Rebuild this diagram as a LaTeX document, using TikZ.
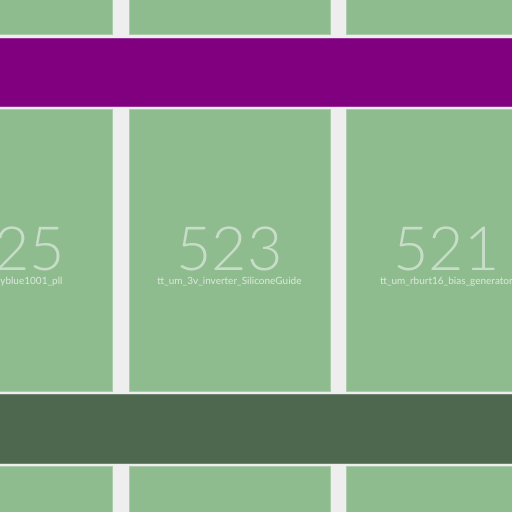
\documentclass[tikz,border=0pt]{standalone}
\usepackage{fontspec}
\newfontfamily\tilefont{Lato Light}
\newfontfamily\namefont{Lato}
\usepackage{tikz}
\usetikzlibrary{positioning}
\definecolor{floorgray}{HTML}{EEEEEE}
\definecolor{tilegreen}{HTML}{8FBC8F}
\definecolor{bandpurple}{HTML}{800080}
\definecolor{banddark}{HTML}{4E684F}
\definecolor{tiletext}{HTML}{C7DDC7}
\definecolor{nametext}{HTML}{DCEADC}
\tikzset{
  tile/.style     = {rectangle, fill=tilegreen, draw=tilegreen!75!white, line width=0.6pt,
                     minimum width=201pt, minimum height=282pt, inner sep=0pt, anchor=north west},
  band/.style     = {rectangle, draw=#1!80!white, line width=0.6pt, fill=#1, minimum width=520pt,
                     minimum height=68.5pt, inner sep=0pt, anchor=north west},
  tilenum/.style  = {font=\tilefont\fontsize{61}{61}\selectfont, text=tiletext, inner sep=0pt, anchor=base},
  tilename/.style = {font=\namefont\fontsize{10}{11}\selectfont, text=nametext, inner sep=0pt, anchor=base},
}

\begin{document}
\begin{tikzpicture}[x=1pt, y=-1pt]
  \useasboundingbox (0,0) rectangle (512,512);
  \clip (0,0) rectangle (512,512);
  \fill[floorgray] (0,0) rectangle (512,512);
  % ---- top row
  \node[tile] (ta) at (-89,-248) {};
  \node[tile] (tb) at (128.7,-248) {};
  \node[tile] (tc) at (345.7,-248) {};
  % ---- purple band
  \node[band=bandpurple] (bp) at (-4,37.8) {};
  % ---- middle row
  \node[tile] (t525) at (-89,109) {};
  \node[tile] (t523) at (128.7,109) {};
  \node[tile] (t521) at (345.7,109) {};
  \node[tilenum] (n525) at ([yshift=-20pt]t525.center) {525};
  \node[tilename] (l525) at ([yshift=-34pt]t525.center) {tt\_um\_skyblue1001\_pll};
  \node[tilenum] (n523) at ([yshift=-20pt]t523.center) {523};
  \node[tilename] (l523) at ([yshift=-34pt]t523.center) {tt\_um\_3v\_inverter\_SiliconeGuide};
  \node[tilenum] (n521) at ([yshift=-20pt]t521.center) {521};
  \node[tilename] (l521) at ([yshift=-34pt]t521.center) {tt\_um\_rburt16\_bias\_generator};
  % ---- dark band
  \node[band=banddark] (bd) at (-4,394.2) {};
  % ---- bottom row
  \node[tile] (td) at (-89,466.3) {};
  \node[tile] (te) at (128.7,466.3) {};
  \node[tile] (tf) at (345.7,466.3) {};
\end{tikzpicture}
\end{document}
